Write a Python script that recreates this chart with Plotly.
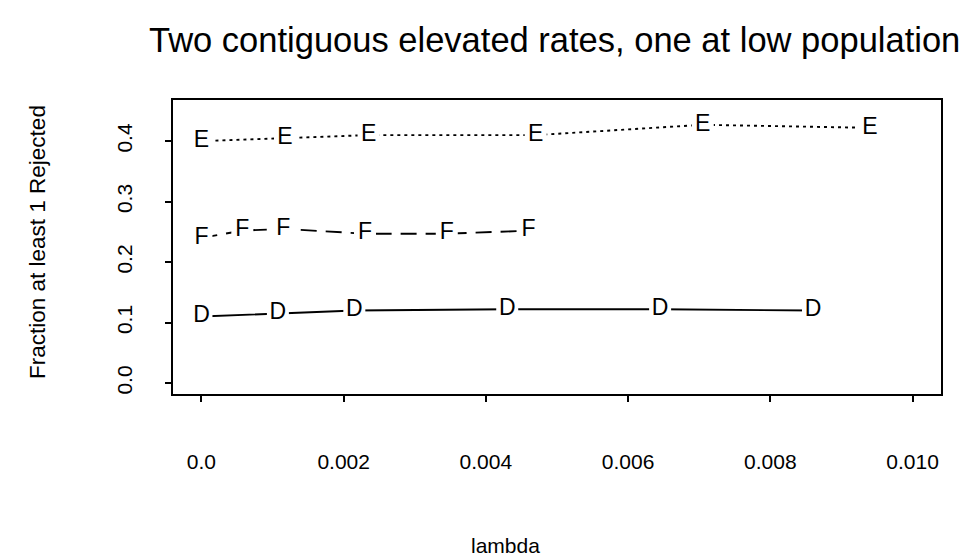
import plotly.graph_objects as go

# Simulated power: fraction of runs with at least one rejection, by lambda
lambda_D = [0.0, 0.001075, 0.00215, 0.0043, 0.00645, 0.0086]
frac_D = [0.11, 0.115, 0.12, 0.122, 0.122, 0.12]

lambda_E = [0.0, 0.001175, 0.00235, 0.0047, 0.00705, 0.0094]
frac_E = [0.40, 0.405, 0.41, 0.41, 0.427, 0.422]

lambda_F = [0.0, 0.000575, 0.00115, 0.0023, 0.00345, 0.0046]
frac_F = [0.24, 0.252, 0.255, 0.247, 0.247, 0.252]

series = [
    ("D", lambda_D, frac_D, "solid"),
    ("E", lambda_E, frac_E, "3px,4px"),
    ("F", lambda_F, frac_F, "16px,9px"),
]

x_ticks = [0.0, 0.002, 0.004, 0.006, 0.008, 0.010]
x_tick_text = ["0.0", "0.002", "0.004", "0.006", "0.008", "0.010"]
y_ticks = [0.0, 0.1, 0.2, 0.3, 0.4]
y_tick_text = ["0.0", "0.1", "0.2", "0.3", "0.4"]

FONT = "Liberation Sans, Arial, Helvetica, sans-serif"

fig = go.Figure()
for letter, xs, ys, dash in series:
    fig.add_trace(go.Scatter(
        x=xs, y=ys,
        mode="lines+markers+text",
        text=[letter] * len(xs),
        textposition="middle center",
        textfont=dict(family=FONT, size=23, color="black"),
        line=dict(color="black", width=1.9, dash=dash),
        # white squares open a gap in the line around each letter
        marker=dict(symbol="square", size=22, color="white", line=dict(width=0)),
        showlegend=False,
        cliponaxis=False,
    ))

W, H = 974, 558
L, R, T, B = 173, 33, 100, 164

fig.update_layout(
    width=W, height=H,
    margin=dict(l=L, r=R, t=T, b=B),
    paper_bgcolor="white",
    plot_bgcolor="white",
    font=dict(family=FONT, color="black"),
    xaxis=dict(
        range=[-0.0004, 0.0104],
        tickvals=x_ticks, ticktext=x_tick_text,
        ticks="outside", ticklen=6, tickwidth=1.5, tickcolor="black",
        tickfont=dict(size=21, family=FONT),
        ticklabelstandoff=42,
        showgrid=False, zeroline=False,
        showline=True, linecolor="black", linewidth=2, mirror=True,
    ),
    yaxis=dict(
        range=[-0.018, 0.468],
        tickvals=y_ticks, ticktext=y_tick_text,
        tickangle=-90,
        ticks="outside", ticklen=6, tickwidth=1.5, tickcolor="black",
        tickfont=dict(size=21, family=FONT),
        ticklabelstandoff=25,
        showgrid=False, zeroline=False,
        showline=True, linecolor="black", linewidth=2, mirror=True,
    ),
    annotations=[
        dict(text="Two contiguous elevated rates, one at low population",
             xref="paper", yref="paper",
             x=(554 - L) / (W - L - R), y=1 + (T - 40) / (H - T - B),
             xanchor="center", yanchor="middle", showarrow=False,
             font=dict(size=34.5, family=FONT)),
        dict(text="lambda",
             xref="paper", yref="paper",
             x=(505 - L) / (W - L - R), y=-(545 - (H - B)) / (H - T - B),
             xanchor="center", yanchor="middle", showarrow=False,
             font=dict(size=21, family=FONT)),
        dict(text="Fraction at least 1 Rejected",
             xref="paper", yref="paper",
             x=-(L - 37) / (W - L - R), y=(H - B - 242) / (H - T - B),
             xanchor="center", yanchor="middle", textangle=-90, showarrow=False,
             font=dict(size=22.5, family=FONT)),
    ],
)

fig.write_html("out.html")
